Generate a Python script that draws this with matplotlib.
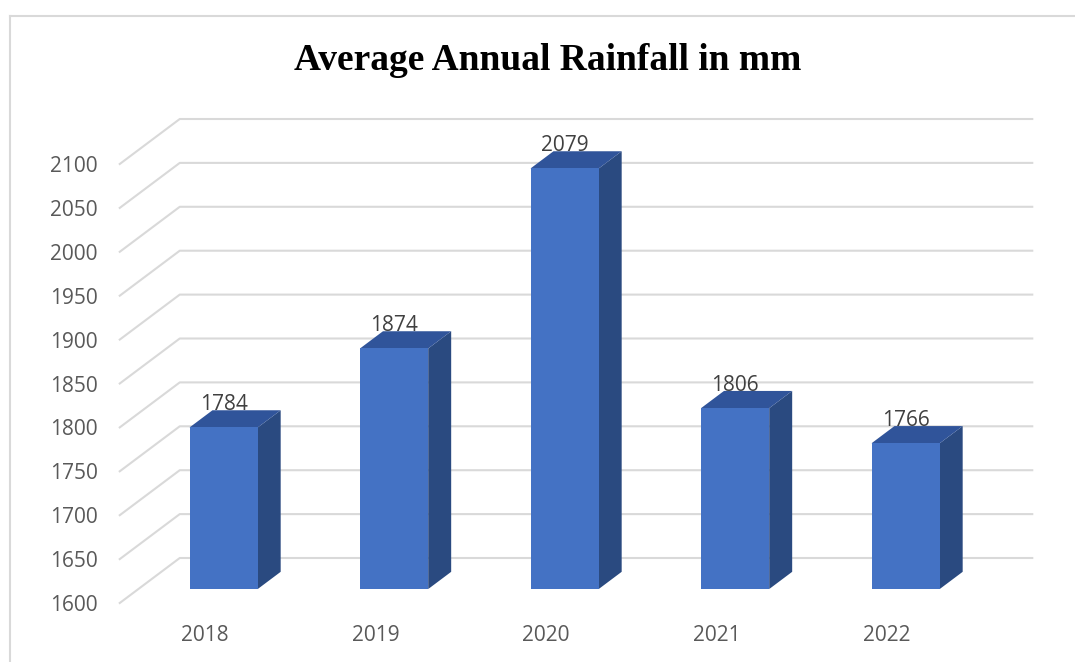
import numpy as np
import matplotlib
matplotlib.use("Agg")
import matplotlib.pyplot as plt
from matplotlib.lines import Line2D

# data
years = ["2018", "2019", "2020", "2021", "2022"]
rainfall = [1784, 1874, 2079, 1806, 1766]
y_ticks = list(range(1600, 2101, 50))
title = "Average Annual Rainfall in mm"

# colours
FRONT = "#4472C4"
TOP = "#30549A"
SIDE = "#2A4A80"
GRID = "#D9D9D9"

W, H = 1075, 662
fig = plt.figure(figsize=(W / 100, H / 100), dpi=100)
ax = fig.add_axes([119.75 / W, (H - 603) / H, 852.5 / W, 439 / H])
ax.set_xlim(-0.5, len(years) - 0.5)
ax.set_ylim(1600, 2100)

# depth of the fake 3d box, in data units (wall -> back)
DX = 60 / 170.5
DY = 45 / (439 / 500)
bar_front = 0.31      # depth where the bar front face sits
bar_depth = 0.383     # depth of a bar
bar_w = 0.40

# gridlines: diagonal on the left side wall, then along the back wall
for v in y_ticks:
    ax.plot([-0.5, -0.5 + DX, len(years) - 0.5 + DX],
            [v, v + DY, v + DY],
            color=GRID, lw=1.5, clip_on=False, zorder=1)

# bars
for i, v in enumerate(rainfall):
    cx = i + bar_front * DX
    x0, x1 = cx - bar_w / 2, cx + bar_w / 2
    y0 = 1600 + bar_front * DY
    yt = v + bar_front * DY
    ddx, ddy = bar_depth * DX, bar_depth * DY
    ax.fill([x1, x1 + ddx, x1 + ddx, x1], [y0, y0 + ddy, yt + ddy, yt],
            color=SIDE, lw=0, clip_on=False, zorder=3)
    ax.fill([x0, x1, x1 + ddx, x0 + ddx], [yt, yt, yt + ddy, yt + ddy],
            color=TOP, lw=0, clip_on=False, zorder=3)
    ax.fill([x0, x1, x1, x0], [y0, y0, yt, yt],
            color=FRONT, lw=0, clip_on=False, zorder=4)
    ax.text(cx, yt + ddy, str(v), ha="center", va="baseline",
            fontsize=15, family="Open Sans", color="#404040", zorder=5)

ax.set_xticks(range(len(years)))
ax.set_xticklabels(years, family="Open Sans", fontsize=15, color="#595959")
ax.set_yticks(y_ticks)
ax.set_yticklabels([str(t) for t in y_ticks], family="Open Sans",
                   fontsize=15, color="#595959")
ax.tick_params(axis="x", length=0, pad=16)
ax.tick_params(axis="y", length=0, pad=16)
for s in ax.spines.values():
    s.set_visible(False)
ax.patch.set_visible(False)

fig.text(548 / W, 1 - 61 / H, title, ha="center", va="center",
         family="Liberation Serif", fontweight="bold", fontsize=27)

# chart area border (only left and top visible in the crop)
top_y = 1 - 16 / H
fig.add_artist(Line2D([9.5 / W, 9.5 / W], [0, top_y], color=GRID, lw=1.5))
fig.add_artist(Line2D([9.5 / W, 1], [top_y, top_y], color=GRID, lw=1.5))

fig.savefig("out.png", dpi=100)
